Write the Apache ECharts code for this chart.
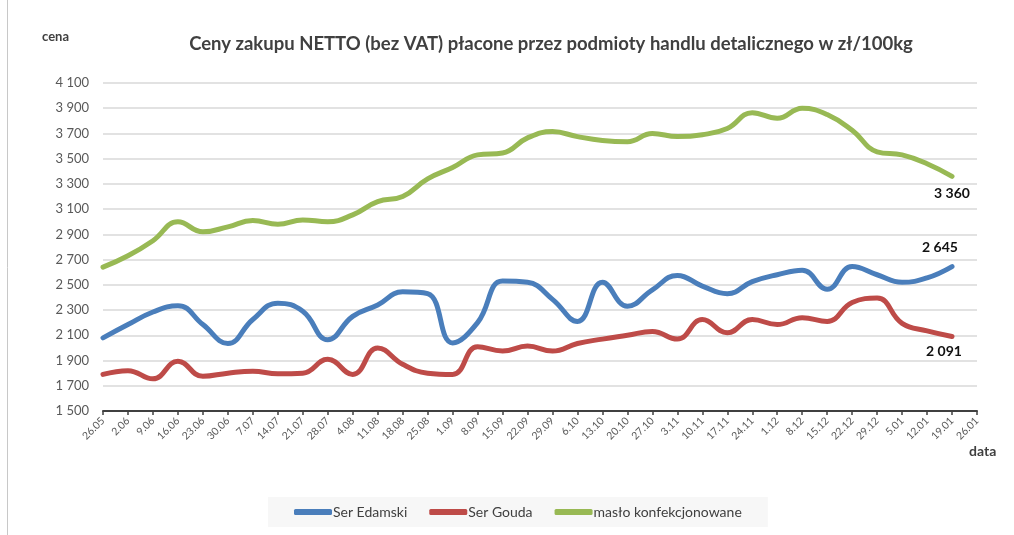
<!DOCTYPE html>
<html>
<head>
<meta charset="utf-8">
<script src="https://cdn.jsdelivr.net/npm/echarts@6/dist/echarts.min.js"></script>
<style>
  html, body { margin: 0; padding: 0; background: #fff; }
  #chart { width: 1014px; height: 535px; }
</style>
</head>
<body>
<div id="chart"></div>
<script>
const dates = ['26.05', '2.06', '9.06', '16.06', '23.06', '30.06', '7.07', '14.07', '21.07', '28.07',
  '4.08', '11.08', '18.08', '25.08', '1.09', '8.09', '15.09', '22.09', '29.09', '6.10',
  '13.10', '20.10', '27.10', '3.11', '10.11', '17.11', '24.11', '1.12', '8.12', '15.12',
  '22.12', '29.12', '5.01', '12.01', '19.01', '26.01']

const serEdamski = [2080, 2185, 2285, 2335, 2185, 2035, 2225, 2355, 2290, 2065,
  2250, 2340, 2445, 2430, 2040, 2200, 2530, 2520, 2385, 2210,
  2520, 2330, 2460, 2575, 2490, 2430, 2525, 2580, 2615, 2465,
  2645, 2580, 2520, 2555, 2645]

const serGouda = [1790, 1820, 1755, 1895, 1775, 1800, 1815, 1795, 1800, 1910,
  1790, 2000, 1870, 1800, 1790, 2010, 1975, 2015, 1975, 2035,
  2070, 2100, 2130, 2070, 2225, 2120, 2225, 2185, 2240, 2210,
  2360, 2395, 2195, 2135, 2091]

const masloKonf = [2640, 2730, 2850, 3000, 2920, 2960, 3010, 2980, 3015, 3000,
  3055, 3160, 3200, 3340, 3430, 3530, 3545, 3665, 3715, 3675,
  3645, 3635, 3700, 3675, 3690, 3740, 3865, 3820, 3900, 3850,
  3725, 3555, 3530, 3460, 3360]

const yTicks = [1500, 1700, 1900, 2100, 2300, 2500, 2700, 2900, 3100, 3300, 3500, 3700, 3900, 4100]

const FONT = 'Lato, "Noto Sans", sans-serif'

// 4100 -> "4 100"
const fmt = v => String(v).replace(/\B(?=(\d{3})+(?!\d))/g, ' ')

// only the last point gets a value label
const withEndLabel = (arr, pos, offset) => arr.map((v, i) => {
  if (i !== arr.length - 1) return v
  return {
    value: v,
    label: {
      show: true,
      position: pos,
      offset: offset,
      distance: 8,
      formatter: p => fmt(p.value),
      fontFamily: FONT,
      fontWeight: 'bold',
      fontSize: 14,
      color: '#111'
    }
  }
})

const lineSeries = (name, color, data) => ({
  name: name,
  type: 'line',
  data: data,
  smooth: 0.45,
  showSymbol: true,
  symbol: 'circle',
  symbolSize: 1,
  lineStyle: { width: 5, color: color, cap: 'round', join: 'round' },
  itemStyle: { color: color },
  emphasis: { disabled: true }
})

const chart = echarts.init(document.getElementById('chart'))
chart.setOption({
  animation: false,
  backgroundColor: '#fff',
  title: {
    text: 'Ceny zakupu NETTO (bez VAT) płacone przez podmioty handlu detalicznego w zł/100kg',
    left: 551,
    textAlign: 'center',
    top: 35,
    padding: 0,
    textStyle: { fontFamily: FONT, fontSize: 18.5, fontWeight: 'bold', color: '#404040' }
  },
  grid: { left: 103, right: 37, top: 83, bottom: 124 },
  legend: {
    left: 268,
    top: 497,
    padding: [8, 26],
    backgroundColor: '#f7f7f7',
    itemGap: 22,
    itemWidth: 38,
    itemHeight: 6,
    icon: 'roundRect',
    textStyle: { fontFamily: FONT, fontSize: 14, color: '#404040', padding: [0, 0, 0, -4] },
    data: ['Ser Edamski', 'Ser Gouda', 'masło konfekcjonowane']
  },
  xAxis: {
    type: 'category',
    data: dates,
    boundaryGap: false,
    axisLine: { lineStyle: { color: '#404040', width: 2 } },
    axisTick: { show: true, length: 4, alignWithLabel: true, lineStyle: { color: '#404040', width: 1.5 } },
    axisLabel: {
      interval: 0,
      rotate: 45,
      margin: 8,
      fontFamily: FONT,
      fontSize: 10.5,
      color: '#595959'
    },
    splitLine: { show: false }
  },
  yAxis: {
    type: 'value',
    min: 1500,
    max: 4100,
    axisLine: { show: false },
    axisTick: { show: false, customValues: yTicks },
    axisLabel: {
      customValues: yTicks,
      margin: 14,
      formatter: v => fmt(v),
      fontFamily: FONT,
      fontSize: 13,
      color: '#595959'
    },
    splitLine: { show: true, lineStyle: { color: '#d9d9d9', width: 1.5 } }
  },
  graphic: [
    { type: 'line', shape: { x1: 7.5, y1: 0, x2: 7.5, y2: 535 }, style: { stroke: '#c8c8c8', lineWidth: 1 } },
    { type: 'text', left: 42, top: 30, style: { text: 'cena', fontFamily: FONT, fontSize: 13, fontWeight: 'bold', fill: '#404040' } },
    { type: 'text', left: 969, top: 444, style: { text: 'data', fontFamily: FONT, fontSize: 14, fontWeight: 'bold', fill: '#404040' } }
  ],
  series: [
    lineSeries('Ser Edamski', '#4a7ebb', withEndLabel(serEdamski, 'top', [-12, -4])),
    lineSeries('Ser Gouda', '#be4b48', withEndLabel(serGouda, 'bottom', [-8, 0])),
    lineSeries('masło konfekcjonowane', '#98b954', withEndLabel(masloKonf, 'bottom', [0, 2]))
  ]
})
</script>
</body>
</html>
